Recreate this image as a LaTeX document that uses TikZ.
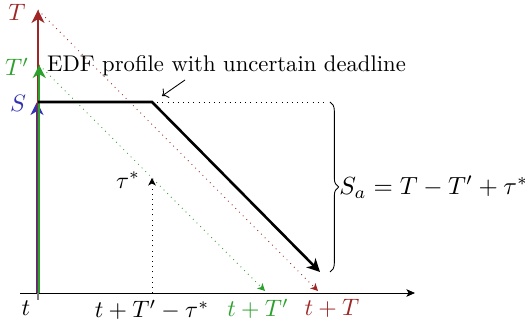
\documentclass[tikz,border=0pt]{standalone}
\usetikzlibrary{arrows.meta, positioning, calc, decorations.pathreplacing}
\usepackage{xcolor}
\definecolor{deadlinered}{RGB}{158,38,38}
\definecolor{edfgreen}{RGB}{44,160,44}
\definecolor{slackblue}{RGB}{50,50,180}

\begin{document}
\begin{tikzpicture}[x=0.1628cm, y=0.1628cm,
  levelarrow/.style={line width=1.1pt, -{Stealth[length=6pt, width=6pt, inset=1.8pt]}},
  guide/.style={dotted, -{Stealth[length=3.5pt, width=3.5pt, inset=1pt]}},
  axislabel/.style={scale=1.1, inner sep=1pt},
]
\useasboundingbox (-3.8,-3.6) rectangle (48.7,29.3);
\def\S{19.1}   % slack level
\def\Tp{22.8}  % uncertain deadline
\def\T{28.3}   % deadline
\def\knee{11.4}

% Reference points
\coordinate (O) at (0,0);
\coordinate (Slev) at (-0.1,\S);
\coordinate (Tplev) at (0.12,\Tp);
\coordinate (Tlev) at (0,\T);
\coordinate (knee) at (\knee,\S);
\coordinate (edfend) at (28.2,2.1);
\coordinate (Tend) at (28.0,0.2);
\coordinate (Tpend) at (22.7,0.2);
\coordinate (tau) at (\knee,11.5);
\coordinate (taubase) at (\knee,0);
\coordinate (xstart) at (-1.8,0);
\coordinate (xend) at (37.7,0);
\coordinate (tick) at (0,-0.7);
\coordinate (levelend) at (29.0,\S);

% Time axis
\draw[-{Stealth[length=4pt, width=3.5pt, inset=1pt]}] (xstart) -- (xend);
\draw[gray, thick] (O) -- (tick);

% Level arrows
\draw[levelarrow, slackblue] (-0.1,0) -- (Slev);
\draw[levelarrow, deadlinered] (O) -- (Tlev);
\draw[levelarrow, edfgreen] (0.12,0) -- (Tplev);

% Level labels
\node[axislabel, slackblue] (Slab) at (-2.0,19.0) {$S$};
\node[axislabel, edfgreen] (Tplab) at (-2.1,22.6) {$T'$};
\node[axislabel, deadlinered] (Tlab) at (-2.1,28.1) {$T$};

% Deadline slopes
\draw[guide, deadlinered] (Tlev) -- (Tend);
\draw[guide, edfgreen] (Tplev) -- (Tpend);

% EDF profile
\draw[very thick, -{Stealth[length=6pt, width=6pt, inset=1.8pt]}] (0,\S) -- (knee) -- (edfend);
\draw[dotted] (knee) -- (levelend);
\draw[guide] (taubase) -- (tau);
\node[axislabel] (taulab) at (9.0,11.3) {$\tau^*$};

% Annotation
\node[scale=1.05, inner sep=1pt] (edftext) at (18.85,22.7) {EDF profile with uncertain deadline};
\coordinate (edfptr) at (12.4,19.7);
\draw[->] (14.7,21.3) -- (edfptr);

% Slack brace
\draw[decorate, decoration={brace, amplitude=4pt}] (29.2,\S) -- (29.2,2.1)
  node[midway, right=3pt, inner sep=1pt, scale=1.15] (salab) {$S_a = T - T' + \tau^*$};

% Axis labels
\node[axislabel] (tlab) at (-1.2,-1.5) {$t$};
\node[axislabel] (taupos) at (\knee,-1.7) {$t+T'-\tau^*$};
\node[axislabel, edfgreen] (Tppos) at (22.0,-1.6) {$t+T'$};
\node[axislabel, deadlinered] (Tpos) at (29.4,-1.5) {$t+T$};
\end{tikzpicture}
\end{document}
